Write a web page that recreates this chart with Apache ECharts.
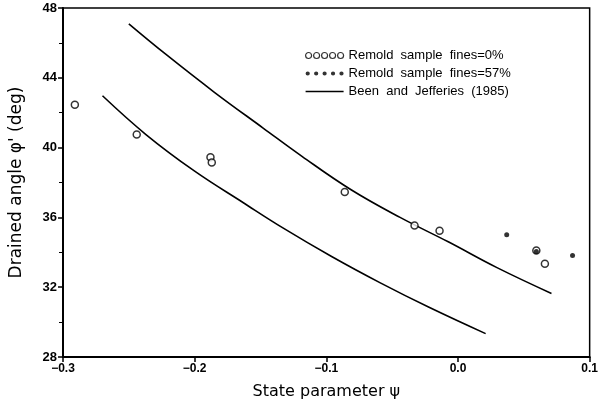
<!DOCTYPE html>
<html>
<head>
<meta charset="utf-8">
<script src="https://cdn.jsdelivr.net/npm/echarts@6/dist/echarts.min.js"></script>
<style>
  html, body { margin: 0; padding: 0; background: #fff; }
  #chart { width: 601px; height: 405px; }
</style>
</head>
<body>
<div id="chart"></div>
<script>
// open circles, fines = 0%
var fines0 = [
    [-0.291, 42.45], [-0.244, 40.75], [-0.188, 39.45], [-0.187, 39.15],
    [-0.086, 37.46], [-0.033, 35.54], [-0.014, 35.23], [0.0595, 34.1], [0.066, 33.34]
];
// filled, fines = 57%
var fines57 = [
    [0.037, 35.0], [0.0595, 34.05], [0.087, 33.82]
];
// Been and Jefferies (1985) curves
var upperCurve = [
    [-0.250, 47.09], [-0.222, 45.35], [-0.185, 43.17], [-0.148, 41.12], [-0.1185, 39.50],
    [-0.0815, 37.60], [-0.044, 36.00], [-0.0074, 34.60], [0.0296, 33.12], [0.071, 31.64]
];
var lowerCurve = [
    [-0.270, 42.97], [-0.237, 40.75], [-0.200, 38.65], [-0.163, 36.84], [-0.133, 35.40],
    [-0.096, 33.76], [-0.059, 32.25], [-0.022, 30.85], [0.021, 29.34]
];
var xTicks = [-0.3, -0.2, -0.1, 0.0, 0.1];
var yTicks = [28, 32, 36, 40, 44, 48];

var font = 'Liberation Sans';
var nameFont = 'DejaVu Sans';
var chart = echarts.init(document.getElementById('chart'));

var fiveOpen = 'path://M1,4a3,3 0 1,0 6,0a3,3 0 1,0 -6,0M9,4a3,3 0 1,0 6,0a3,3 0 1,0 -6,0' +
    'M17,4a3,3 0 1,0 6,0a3,3 0 1,0 -6,0M25,4a3,3 0 1,0 6,0a3,3 0 1,0 -6,0M33,4a3,3 0 1,0 6,0a3,3 0 1,0 -6,0';
var fiveDots = 'path://M2,4a2,2 0 1,0 4,0a2,2 0 1,0 -4,0M10,4a2,2 0 1,0 4,0a2,2 0 1,0 -4,0' +
    'M18,4a2,2 0 1,0 4,0a2,2 0 1,0 -4,0M26,4a2,2 0 1,0 4,0a2,2 0 1,0 -4,0M34,4a2,2 0 1,0 4,0a2,2 0 1,0 -4,0';
var lineIcon = 'path://M0,0L40,0L40,1.4L0,1.4Z';

var option = {
    backgroundColor: '#fff',
    animation: false,
    textStyle: { fontFamily: font, color: '#000' },
    grid: {
        left: 55, right: 5, top: 8, bottom: 44,
        show: true, borderColor: '#000', borderWidth: 1.5
    },
    legend: {
        orient: 'vertical',
        left: 300, top: 44,
        itemWidth: 38, itemGap: 5,
        textStyle: { fontFamily: font, fontSize: 13, color: '#000' },
        data: [
            { name: 'Remold  sample  fines=0%', icon: fiveOpen, itemHeight: 8,
              itemStyle: { color: '#fff', borderColor: '#000', borderWidth: 1.2 } },
            { name: 'Remold  sample  fines=57%', icon: fiveDots, itemHeight: 8,
              itemStyle: { color: '#000', borderWidth: 0 } },
            { name: 'Been  and  Jefferies  (1985)', icon: lineIcon, itemHeight: 2,
              itemStyle: { color: '#000', borderWidth: 0 } }
        ]
    },
    xAxis: {
        type: 'value',
        min: -0.3, max: 0.1, interval: 0.1,
        name: 'State parameter ψ',
        nameLocation: 'middle', nameGap: 27,
        nameTextStyle: { fontSize: 16, color: '#000', fontFamily: nameFont },
        axisLine: { onZero: false, lineStyle: { color: '#000', width: 2 } },
        axisTick: { length: 5, lineStyle: { color: '#000', width: 1.5 } },
        splitLine: { show: false },
        axisLabel: {
            color: '#000', fontSize: 12, fontWeight: 'bold', margin: 6,
            formatter: function (v) {
                for (var i = 0; i < xTicks.length; i++) {
                    if (Math.abs(v - xTicks[i]) < 1e-9) return xTicks[i].toFixed(1).replace('-', '−');
                }
                return '';
            }
        }
    },
    yAxis: {
        type: 'value',
        min: 28, max: 48, interval: 4,
        name: "Drained angle φ' (deg)",
        nameLocation: 'middle', nameGap: 38,
        nameTextStyle: { fontSize: 17, color: '#000', fontFamily: nameFont },
        axisLine: { onZero: false, lineStyle: { color: '#000', width: 2 } },
        axisTick: { length: 5, lineStyle: { color: '#000', width: 1.5 } },
        minorTick: { show: true, splitNumber: 2, length: 4, lineStyle: { color: '#000', width: 1 } },
        splitLine: { show: false },
        axisLabel: {
            color: '#000', fontSize: 13, fontWeight: 'bold', margin: 6,
            formatter: function (v) { return yTicks.indexOf(v) >= 0 ? String(v) : ''; }
        }
    },
    series: [
        {
            name: 'Remold  sample  fines=0%',
            type: 'scatter',
            symbol: 'circle', symbolSize: 7,
            itemStyle: { color: '#fff', borderColor: '#000', borderWidth: 1.5 },
            data: fines0,
            z: 3
        },
        {
            name: 'Remold  sample  fines=57%',
            type: 'scatter',
            symbol: 'circle', symbolSize: 5,
            itemStyle: { color: '#000' },
            data: fines57,
            z: 4
        },
        {
            name: 'Been  and  Jefferies  (1985)',
            type: 'line', smooth: 0.4, showSymbol: false,
            lineStyle: { color: '#000', width: 1.6 },
            itemStyle: { color: '#000' },
            data: upperCurve
        },
        {
            name: 'Been  and  Jefferies  (1985)',
            type: 'line', smooth: 0.4, showSymbol: false,
            lineStyle: { color: '#000', width: 1.6 },
            itemStyle: { color: '#000' },
            data: lowerCurve
        }
    ]
};

chart.setOption(option);
</script>
</body>
</html>
